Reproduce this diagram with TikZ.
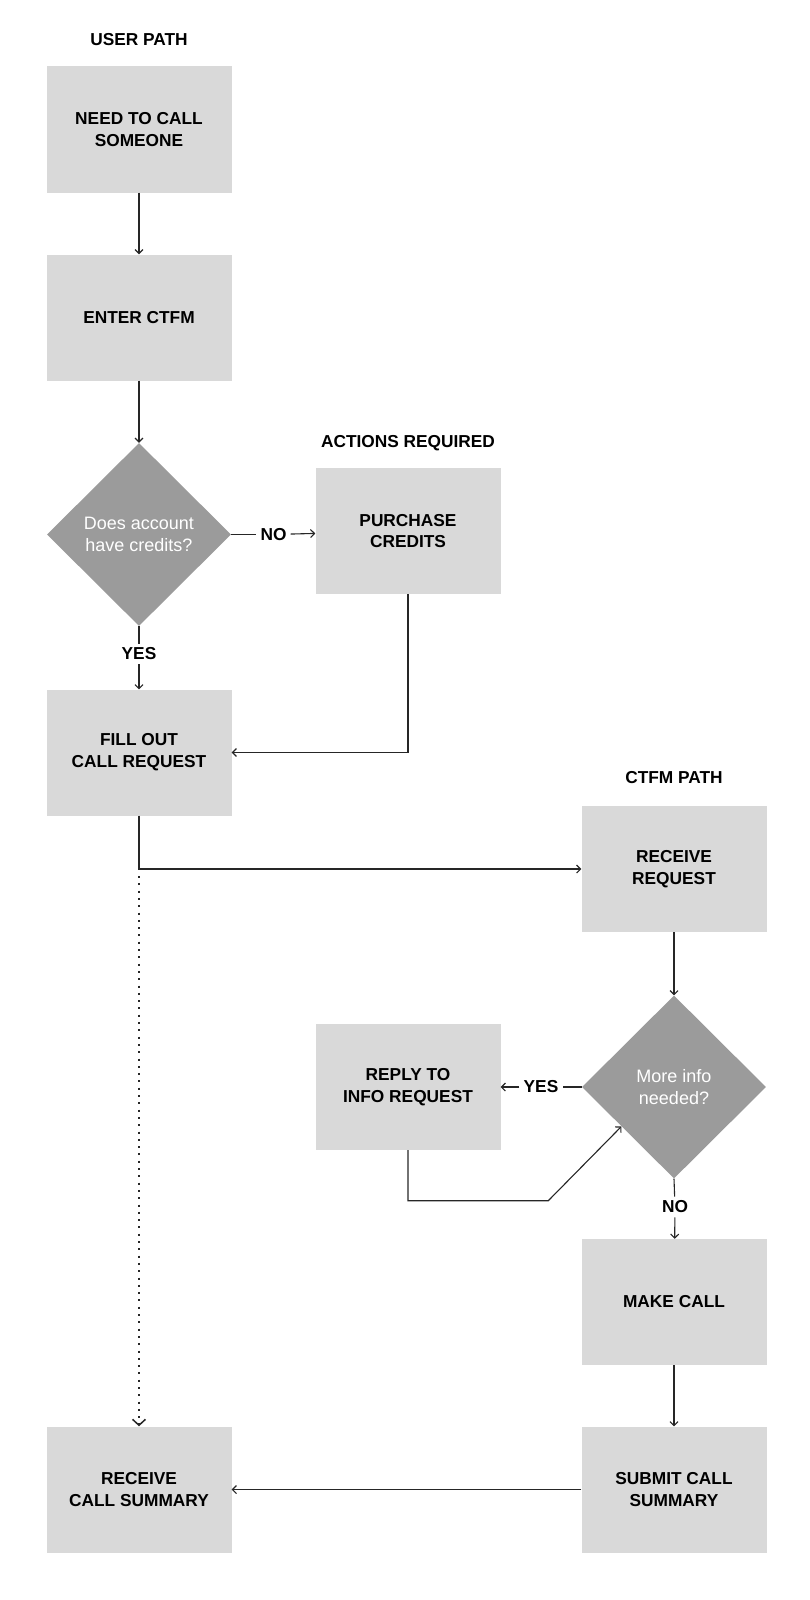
\documentclass[tikz,border=0pt]{standalone}
\usepackage{fontspec}
\setmainfont{Liberation Sans}
\usetikzlibrary{positioning,arrows.meta,shapes.geometric,calc}

\definecolor{cajagris}{HTML}{D9D9D9}
\definecolor{rombogris}{HTML}{9B9B9B}

\begin{document}
\begin{tikzpicture}[x=1pt,y=-1pt,
    caja/.style={fill=cajagris,minimum width=185pt,minimum height=126pt,inner sep=0pt,align=center,font=\bfseries\fontsize{17.3}{21.7}\selectfont}, %cajas grises claras
    rombo/.style={diamond,aspect=1,fill=rombogris,minimum width=184pt,minimum height=183pt,inner sep=0pt,align=center,text=white,font=\fontsize{18}{21.5}\selectfont},
    titulo/.style={font=\bfseries\fontsize{17.3}{20}\selectfont},
    etiqueta/.style={font=\bfseries\fontsize{17.3}{20}\selectfont,inner sep=4pt},
    flecha/.style={line width=1.1pt,draw=black!85,-{Straight Barb[length=4pt,width=8pt]}},
    linea/.style={line width=1.1pt,draw=black!85}]
    \useasboundingbox (0,0) rectangle (810,1600); %tamanio de la hoja

    %Titulos de cada columna
    \node[titulo] (t1) at (139,40) {USER PATH};
    \node[titulo] (t2) at (408,443) {ACTIONS REQUIRED};
    \node[titulo] (t3) at (674,778) {CTFM PATH};

    %Camino del usuario
    \node[caja] (need) at (139,129.5) {NEED TO CALL\\SOMEONE};
    \node[caja] (enter) at (139,317.5) {ENTER CTFM};
    \node[rombo] (credits) at (139,534.5) {Does account\\have credits?};
    \node[caja] (purchase) at (408,531) {PURCHASE\\CREDITS};
    \node[caja] (fill) at (139,752.5) {FILL OUT\\CALL REQUEST};
    \node[caja] (summary) at (139,1489.5) {RECEIVE\\CALL SUMMARY};

    %Camino de CTFM
    \node[caja] (receive) at (674,869) {RECEIVE\\REQUEST};
    \node[rombo] (info) at (674,1087) {More info\\needed?};
    \node[caja] (reply) at (408,1087) {REPLY TO\\INFO REQUEST};
    \node[caja] (call) at (674,1302) {MAKE CALL};
    \node[caja] (submit) at (674,1489.5) {SUBMIT CALL\\SUMMARY};

    %Los si / no
    \node[etiqueta] (no1) at (273.5,534.5) {NO};
    \node[etiqueta] (yes1) at (139,654) {YES};
    \node[etiqueta] (yes2) at (541,1087) {YES};
    \node[etiqueta] (no2) at (675,1207) {NO};

    \coordinate (j) at (fill.south |- receive.west); %donde se abre la linea punteada
    \coordinate (kink) at (548.3,1200.7);

    %Flechas
    \draw[flecha] (need) -- (enter);
    \draw[flecha] (enter) -- (credits);
    \draw[linea] (credits.east) -- (no1);
    \draw[flecha] (no1) -- (purchase);
    \draw[linea] (credits.south) -- (yes1);
    \draw[flecha] (yes1) -- (fill);
    \draw[flecha] (purchase.south) |- (fill.east);
    \draw[flecha] (fill.south) |- (receive.west);
    \draw[line width=2pt,draw=black!85,dash pattern=on 2pt off 5.3pt] ([yshift=-7pt]j) -- ([yshift=4pt]summary.north); %punteada
    \draw[line width=1.5pt,draw=black!85,-{Straight Barb[length=6pt,width=13pt]}] ([yshift=3pt]summary.north) -- (summary.north); %la punta va aparte (sin puntos)

    \draw[flecha] (receive) -- (info);
    \draw[linea] (info.west) -- (yes2);
    \draw[flecha] (yes2) -- (reply);
    \draw[flecha] (reply.south) |- (kink) -- ($(info.west)!0.43!(info.south)$); %la diagonal
    \draw[linea] (info.south) -- (no2);
    \draw[flecha] (no2) -- (call);
    \draw[flecha] (call) -- (submit);
    \draw[flecha] (submit) -- (summary);
\end{tikzpicture}
\end{document}
